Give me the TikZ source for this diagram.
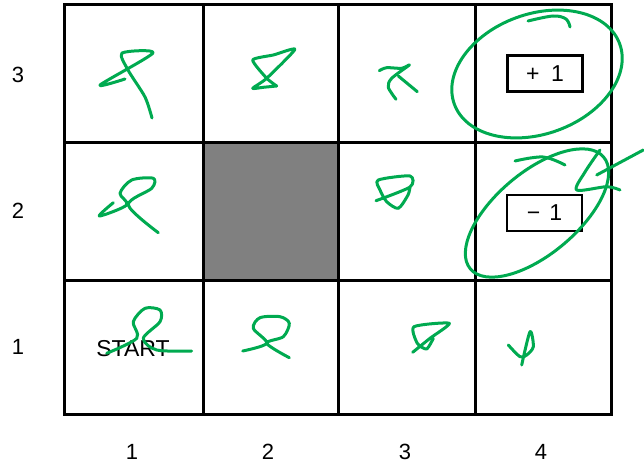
\documentclass[tikz,border=0pt]{standalone}
\usepackage{fontspec}
\setmainfont{Liberation Sans}
\definecolor{ink}{RGB}{0,170,80}
\definecolor{wallgray}{RGB}{128,128,128}
\tikzset{
  gridline/.style={line width=3pt},
  scribble/.style={ink, line width=3pt, line cap=round, line join=round},
  axislabel/.style={font=\fontsize{22}{24}\selectfont, inner sep=0pt},
  rewardbox/.style={draw, line width=2.5pt, minimum width=75pt, minimum height=36pt, inner sep=0pt, font=\fontsize{23}{25}\selectfont},
}
\begin{document}
\begin{tikzpicture}[x=1pt,y=-1pt]
\useasboundingbox (0,0) rectangle (644,465);
% wall
\fill[wallgray] (203,143) rectangle (338,280);
% grid
\draw[gridline] (64,5) rectangle (611,414);
\draw[gridline] (203,5) -- (203,414);
\draw[gridline] (338,5) -- (338,414);
\draw[gridline] (475,5) -- (475,414);
\draw[gridline] (64,143) -- (611,143);
\draw[gridline] (64,280) -- (611,280);
% row labels
\node[axislabel] (r3) at (18,75) {3};
\node[axislabel] (r2) at (18,211) {2};
\node[axislabel] (r1) at (18,347) {1};
% column labels
\node[axislabel] (c1) at (132,452) {1};
\node[axislabel] (c2) at (268,452) {2};
\node[axislabel] (c3) at (405,452) {3};
\node[axislabel] (c4) at (541,452) {4};
% reward boxes
\node[rewardbox] (plus) at (545,73.5) {+\hspace{0.5em}1};
\node[rewardbox] (minus) at (544.5,213) {−\hspace{0.4em}1};
% start
\node[font=\fontsize{23}{25}\selectfont, inner sep=0pt] (start) at (133,348.5) {START};
% scribbles
\draw[scribble] plot[smooth, tension=0.45] coordinates {(125,79) (100,85) (153,53) (122,53) (128,70) (145,97) (152,118)};
\draw[scribble] plot[smooth, tension=0.35] coordinates {(276.7,86) (266.7,78.3) (252.7,60) (273.3,55) (295,49.3) (266.7,78.3) (252.7,88.3) (263.3,87.3) (276.7,86)};
\draw[scribble] plot[smooth, tension=0.5] coordinates {(379.3,70.7) (386.7,67.7) (401.7,68.3) (409.3,65) (391.7,78.3) (388.3,87.3) (396,99.3)};
\draw[scribble] (398.3,76) -- (417.3,91.7);
\draw[scribble] plot[smooth, tension=0.5] coordinates {(113.3,202.7) (99.3,216) (126.7,205) (120,193.3) (131.7,180) (153.3,178.3) (151.7,188.3) (128.3,205) (158.3,232.7)};
\draw[scribble] plot[smooth, tension=0.45] coordinates {(376,200.7) (410,187) (410,176) (378.3,180) (380,190) (386.7,201.7) (398.3,208.3) (408,195) (410,187)};
\draw[scribble] plot[smooth, tension=0.5] coordinates {(106.7,353.3) (136.7,338.3) (133.3,321.7) (145,308.3) (160,310) (160,321.7) (143.3,338.3) (156.7,350) (191.7,351)};
\draw[scribble] plot[smooth, tension=0.5] coordinates {(242.7,351) (266.7,343.3) (253.3,328.3) (260,317.7) (280,316.7) (289.3,323.3) (283.3,336.7) (266.7,343.3) (289.3,357.7)};
\draw[scribble] plot[smooth, tension=0.4] coordinates {(412.7,352.3) (430,338.3) (449.3,323.3) (414,326.7) (417.3,343.3) (426.7,349) (433.3,338.3)};
\draw[scribble] plot[smooth, tension=0.5] coordinates {(508.3,345) (520,356.7) (526.7,355) (533.3,346.7) (530,331.7) (521.7,365)};
% ellipses
\draw[scribble, rotate around={20:(537,74)}] (537,74) ellipse [x radius=88, y radius=60];
\draw[scribble] plot[smooth, tension=0.6] coordinates {(528,21) (553,16) (566,19) (570,27)};
\draw[scribble, rotate around={40:(537,213)}] (537,213) ellipse [x radius=87, y radius=41];
\draw[scribble] plot[smooth, tension=0.6] coordinates {(515,161) (543,157) (565,165)};
% arrow scribble
\draw[scribble] (643.3,150) -- (596.7,175);
\draw[scribble] plot[smooth, tension=0.5] coordinates {(600,150) (585,172) (576.7,190) (606.7,186.7) (620,190)};
\end{tikzpicture}
\end{document}
